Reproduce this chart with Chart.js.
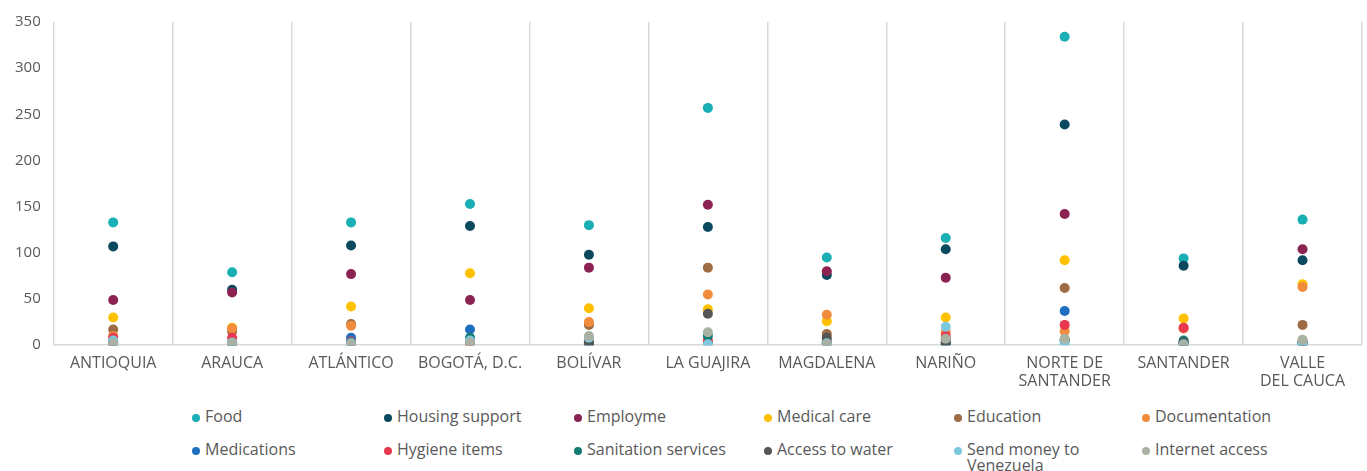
<!DOCTYPE html>
<html>
<head>
<meta charset="utf-8">
<script src="https://cdn.jsdelivr.net/npm/chart.js@4.4.0/dist/chart.umd.min.js"></script>
<style>
  html, body { margin: 0; padding: 0; background: #fff; }
  #wrap { position: relative; width: 1367px; height: 471px; }
  #chartBox { position: absolute; left: 0; top: 0; width: 1367px; height: 400px; }
  #legend { position: absolute; left: 0; top: 403px; width: 1367px; font-family: "Open Sans", sans-serif; font-size: 16px; color: #595959; }
  .li { position: absolute; line-height: 16px; white-space: nowrap; }
  .li .dot { position: absolute; left: -13px; top: 6px; width: 8px; height: 8px; border-radius: 50%; }
</style>
</head>
<body>
<div id="wrap">
  <div id="chartBox"><canvas id="c"></canvas></div>
  <div id="legend"></div>
</div>
<script>
const categories = ["ANTIOQUIA", "ARAUCA", "ATLÁNTICO", "BOGOTÁ, D.C.", "BOLÍVAR", "LA GUAJIRA", "MAGDALENA", "NARIÑO", ["NORTE DE", "SANTANDER"], "SANTANDER", ["VALLE", "DEL CAUCA"]];
const seriesNames = ["Food", "Housing support", "Employme", "Medical care", "Education", "Documentation", "Medications", "Hygiene items", "Sanitation services", "Access to water", "Send money to Venezuela", "Internet access"];
const seriesColors = ["#1AAFB4", "#0B4A5E", "#8B2252", "#FFC000", "#9E6B43", "#F08C3C", "#1F6FBF", "#E8384F", "#137C74", "#555555", "#7EC8DC", "#A9B1A3"];

const food        = [133, 79, 133, 153, 130, 257, 95, 116, 334, 94, 136];
const housing     = [107, 60, 108, 129, 98, 128, 76, 104, 239, 86, 92];
const employment  = [49, 57, 77, 49, 84, 152, 80, 73, 142, 2, 104];
const medicalCare = [30, 19, 42, 78, 40, 39, 26, 30, 92, 29, 66];
const education   = [17, 15, 23, 5, 22, 84, 12, 6, 62, 2, 22];
const documentation = [10, 18, 21, 4, 25, 55, 33, 14, 15, 18, 63];
const medications = [4, 3, 8, 17, 3, 3, 3, 3, 37, 2, 3];
const hygiene     = [8, 8, 4, 3, 5, 5, 4, 10, 22, 19, 4];
const sanitation  = [3, 2, 3, 8, 2, 10, 2, 1, 5, 5, 2];
const water       = [0, 1, 1, 2, 1, 34, 8, 3, 6, 3, 3];
const sendMoney   = [5, 3, 2, 5, 8, 1, 2, 20, 2, 1, 2];
const internet    = [2, 2, 1, 3, 10, 14, 1, 7, 7, 0, 6];
const yTicks = [0, 50, 100, 150, 200, 250, 300, 350];

const seriesData = [food, housing, employment, medicalCare, education, documentation, medications, hygiene, sanitation, water, sendMoney, internet];

// later series drawn on top (lower order = drawn later)
const datasets = seriesData.map((d, i) => ({
  label: seriesNames[i],
  data: d,
  showLine: false,
  pointRadius: 5,
  pointHoverRadius: 5,
  pointBorderWidth: 0,
  pointBackgroundColor: seriesColors[i],
  pointBorderColor: seriesColors[i],
  backgroundColor: seriesColors[i],
  borderColor: seriesColors[i],
  order: seriesData.length - i
}));

new Chart(document.getElementById('c'), {
  type: 'line',
  data: { labels: categories, datasets: datasets },
  options: {
    responsive: true,
    maintainAspectRatio: false,
    animation: false,
    layout: { padding: { top: 10, right: 5, left: 2, bottom: 0 } },
    plugins: { legend: { display: false }, tooltip: { enabled: false } },
    scales: {
      x: {
        type: 'category',
        offset: true,
        grid: { offset: true, display: true, color: '#D9D9D9', lineWidth: 1.5, drawTicks: false },
        border: { display: true, color: '#D9D9D9', width: 1.5 },
        ticks: { color: '#595959', font: { family: "'Open Sans', sans-serif", size: 16, lineHeight: 1.15 }, padding: 9, maxRotation: 0, autoSkip: false }
      },
      y: {
        min: 0, max: 350,
        afterBuildTicks: (s) => { s.ticks = yTicks.map(v => ({ value: v })); },
        grid: { display: false, drawTicks: false },
        border: { display: false },
        ticks: { color: '#595959', font: { family: "'Open Sans', sans-serif", size: 15 }, padding: 13 }
      }
    }
  }
});

const legend = document.getElementById('legend');
const colX = [205, 397, 587, 777, 967, 1155];
const rowY = [5, 38];
seriesNames.forEach((name, i) => {
  const el = document.createElement('div');
  el.className = 'li';
  el.style.left = colX[i % 6] + 'px';
  el.style.top = rowY[Math.floor(i / 6)] + 'px';
  const dot = document.createElement('span');
  dot.className = 'dot';
  dot.style.background = seriesColors[i];
  el.appendChild(dot);
  const txt = document.createElement('span');
  if (name === "Send money to Venezuela") { txt.innerHTML = "Send money to<br>Venezuela"; }
  else txt.textContent = name;
  el.appendChild(txt);
  legend.appendChild(el);
});
</script>
</body>
</html>
